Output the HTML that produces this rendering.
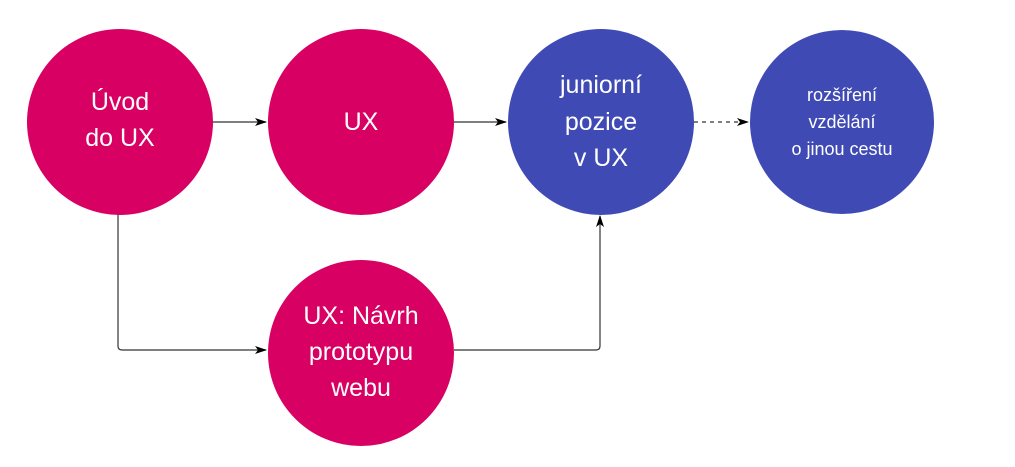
<!DOCTYPE html>
<html><head><meta charset="utf-8"><style>
html,body{margin:0;padding:0;background:#fff;width:1015px;height:467px;overflow:hidden}
svg text{font-family:"Liberation Sans","DejaVu Sans",sans-serif;fill:#fff;text-anchor:middle}
</style></head><body>
<svg width="1015" height="467" viewBox="0 0 1015 467" xmlns="http://www.w3.org/2000/svg">
<defs><marker id="a" markerWidth="12" markerHeight="8" refX="11" refY="4" orient="auto" markerUnits="userSpaceOnUse"><path d="M0,0 L12,4 L0,8 L3,4 Z" fill="#000"/></marker></defs>
<g stroke="#333" stroke-width="1.2" fill="none">
<line x1="213" y1="122" x2="266" y2="122" marker-end="url(#a)"/>
<line x1="454" y1="122" x2="506" y2="122" marker-end="url(#a)"/>
<line x1="694" y1="122" x2="748" y2="122" stroke-dasharray="4,4" marker-end="url(#a)"/>
<path d="M118,213 V346 Q118,350 122,350 H266" marker-end="url(#a)"/>
<path d="M454,350 H596 Q600,350 600,346 V216" marker-end="url(#a)"/>
</g>
<circle cx="120" cy="122" r="93" fill="#D80062"/>
<circle cx="361" cy="122" r="93" fill="#D80062"/>
<circle cx="601" cy="122" r="93" fill="#3F4AB4"/>
<circle cx="842" cy="122" r="92" fill="#3F4AB4"/>
<circle cx="361" cy="353" r="93" fill="#D80062"/>
<text font-size="25"><tspan x="120" y="110">Úvod</tspan><tspan x="120" y="146">do UX</tspan></text>
<text font-size="25" x="361" y="130">UX</text>
<text font-size="25"><tspan x="601" y="93">juniorní</tspan><tspan x="601" y="130">pozice</tspan><tspan x="601" y="166">v UX</tspan></text>
<text font-size="18"><tspan x="842" y="101">rozšíření</tspan><tspan x="842" y="128">vzdělání</tspan><tspan x="842" y="155">o jinou cestu</tspan></text>
<text font-size="25"><tspan x="361" y="324">UX: Návrh</tspan><tspan x="361" y="360">prototypu</tspan><tspan x="361" y="396">webu</tspan></text>
</svg>
</body></html>
